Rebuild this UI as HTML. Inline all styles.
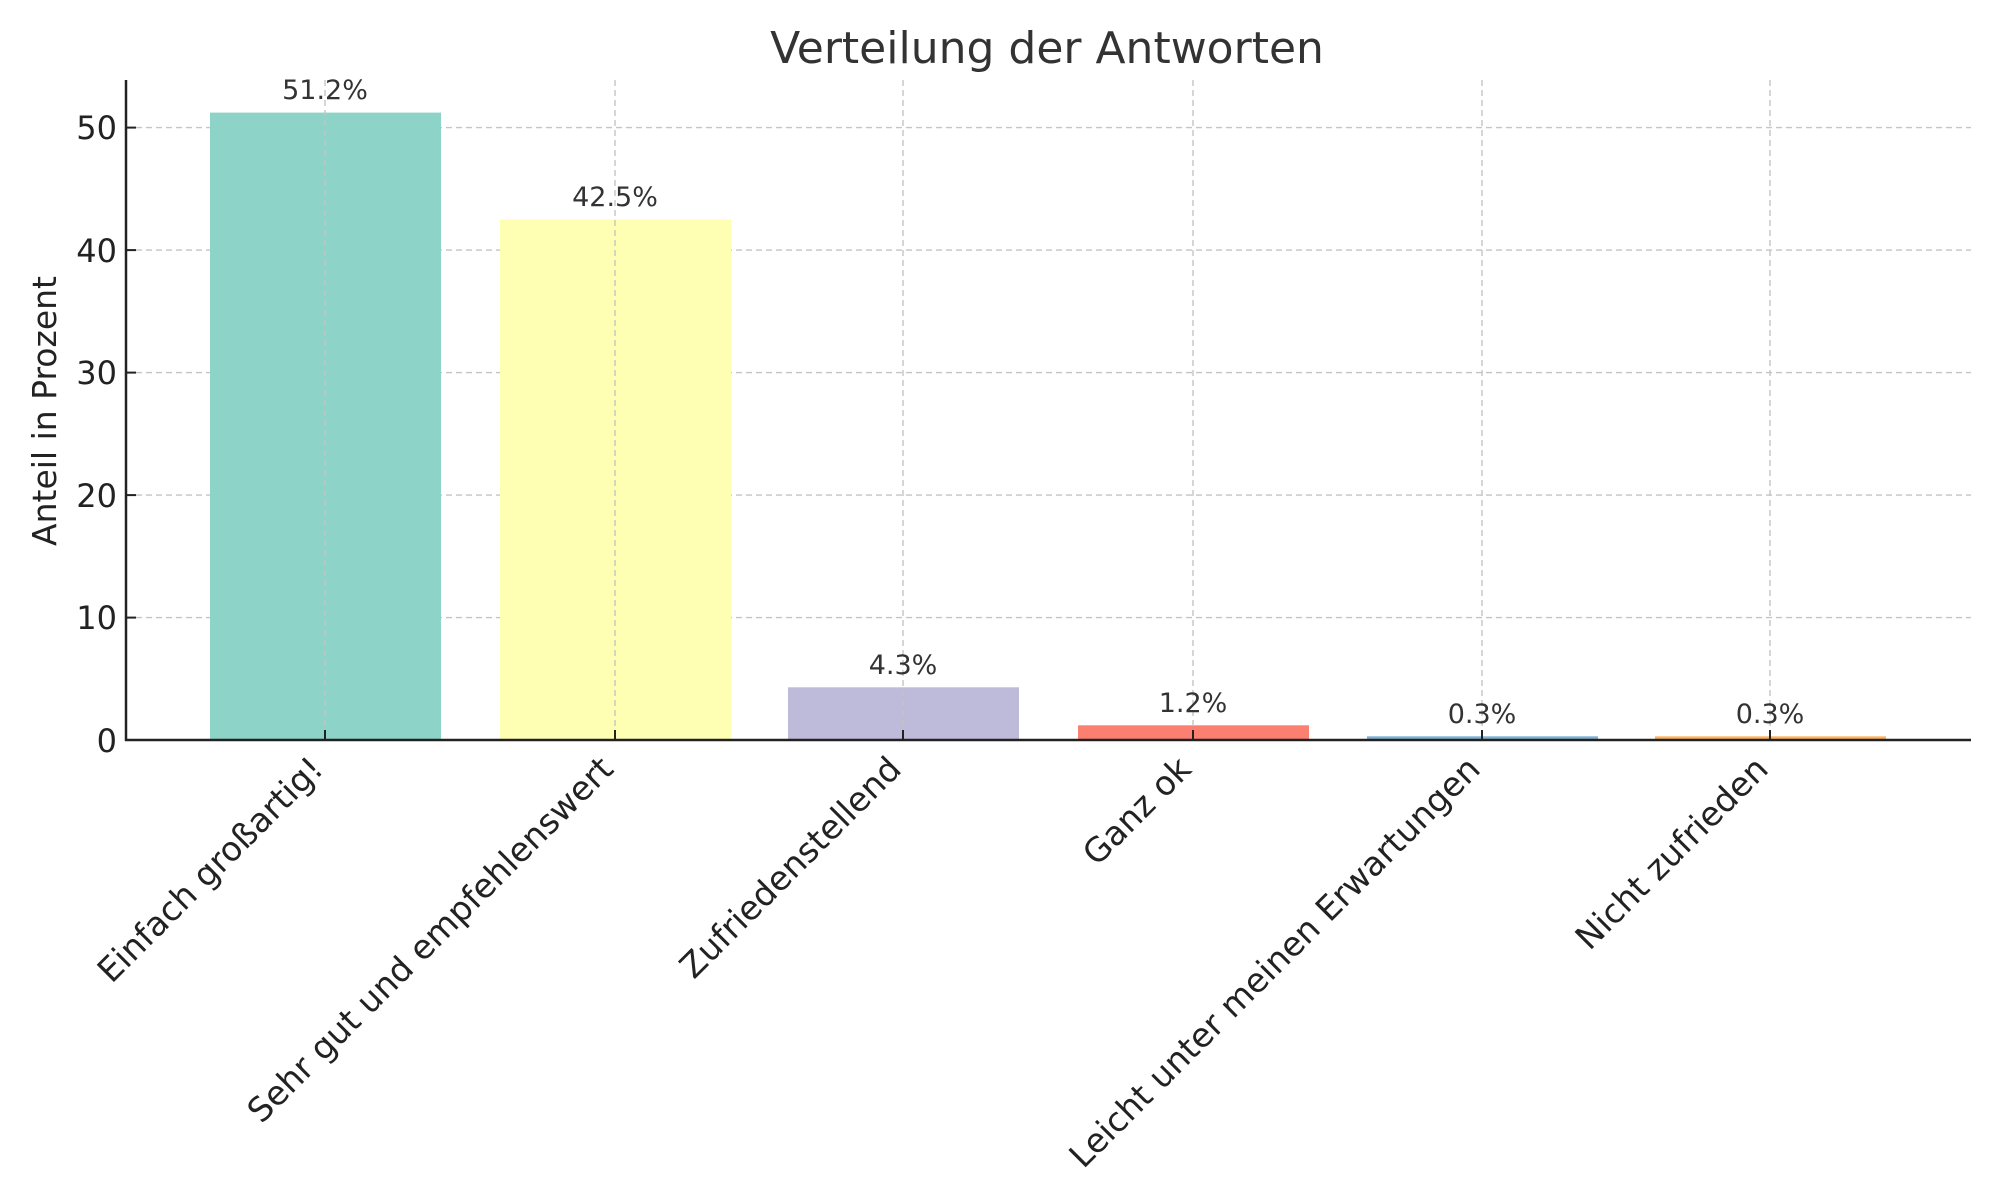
<!DOCTYPE html>
<html><head><meta charset="utf-8"><style>
html,body{margin:0;padding:0;background:#fff;}
svg{display:block;font-family:"DejaVu Sans","Liberation Sans",sans-serif;}
</style></head><body>
<svg width="2000" height="1200" viewBox="0 0 2000 1200" xmlns="http://www.w3.org/2000/svg">
<rect width="2000" height="1200" fill="#fff"/>
<g stroke="#c4c4c4" stroke-width="1.4" stroke-dasharray="6,4">
<line x1="126" x2="1971" y1="127.6" y2="127.6"/>
<line x1="126" x2="1971" y1="250.1" y2="250.1"/>
<line x1="126" x2="1971" y1="372.6" y2="372.6"/>
<line x1="126" x2="1971" y1="495.1" y2="495.1"/>
<line x1="126" x2="1971" y1="617.6" y2="617.6"/>
</g>
<g>
<rect x="210" y="112.6" width="231" height="627.4" fill="#8dd3c7"/>
<rect x="500" y="219.4" width="231" height="520.6" fill="#ffffb3"/>
<rect x="788" y="687.3" width="231" height="52.7" fill="#bebada"/>
<rect x="1078" y="725.3" width="231" height="14.7" fill="#fb8072"/>
<rect x="1367" y="736.3" width="231" height="3.7" fill="#80b1d3"/>
<rect x="1655" y="736.3" width="231" height="3.7" fill="#fdb462"/>
</g>
<g stroke="#c4c4c4" stroke-width="1.4" stroke-dasharray="6,4">
<line x1="325" x2="325" y1="80" y2="740"/>
<line x1="615" x2="615" y1="80" y2="740"/>
<line x1="903" x2="903" y1="80" y2="740"/>
<line x1="1193" x2="1193" y1="80" y2="740"/>
<line x1="1482" x2="1482" y1="80" y2="740"/>
<line x1="1770" x2="1770" y1="80" y2="740"/>
</g>
<g stroke="#222" stroke-width="2.5">
<line x1="126" x2="126" y1="80" y2="741"/>
<line x1="125" x2="1971" y1="740" y2="740"/>
</g>
<g stroke="#222" stroke-width="2">
<line x1="126" x2="136" y1="127.6" y2="127.6"/>
<line x1="126" x2="136" y1="250.1" y2="250.1"/>
<line x1="126" x2="136" y1="372.6" y2="372.6"/>
<line x1="126" x2="136" y1="495.1" y2="495.1"/>
<line x1="126" x2="136" y1="617.6" y2="617.6"/>
<line x1="325" x2="325" y1="740" y2="730"/>
<line x1="615" x2="615" y1="740" y2="730"/>
<line x1="903" x2="903" y1="740" y2="730"/>
<line x1="1193" x2="1193" y1="740" y2="730"/>
<line x1="1482" x2="1482" y1="740" y2="730"/>
<line x1="1770" x2="1770" y1="740" y2="730"/>
</g>
<g fill="#222" font-size="32" text-anchor="end">
<text x="117" y="139">50</text>
<text x="117" y="262">40</text>
<text x="117" y="384">30</text>
<text x="117" y="507">20</text>
<text x="117" y="629">10</text>
<text x="117" y="752">0</text>
</g>
<text x="1047" y="63" font-size="44" fill="#333" text-anchor="middle">Verteilung der Antworten</text>
<text transform="translate(56,411) rotate(-90)" font-size="33" fill="#222" text-anchor="middle">Anteil in Prozent</text>
<g fill="#333" font-size="27" text-anchor="middle">
<text x="325" y="99">51.2%</text>
<text x="615" y="206">42.5%</text>
<text x="903" y="674">4.3%</text>
<text x="1193" y="712">1.2%</text>
<text x="1482" y="723">0.3%</text>
<text x="1770" y="723">0.3%</text>
</g>
<g fill="#222" font-size="33.5" text-anchor="end">
<text transform="translate(325,771) rotate(-45)">Einfach großartig!</text>
<text transform="translate(615,771) rotate(-45)">Sehr gut und empfehlenswert</text>
<text transform="translate(903,771) rotate(-45)">Zufriedenstellend</text>
<text transform="translate(1193,771) rotate(-45)">Ganz ok</text>
<text transform="translate(1482,771) rotate(-45)">Leicht unter meinen Erwartungen</text>
<text transform="translate(1770,771) rotate(-45)">Nicht zufrieden</text>
</g>
</svg>
</body></html>
